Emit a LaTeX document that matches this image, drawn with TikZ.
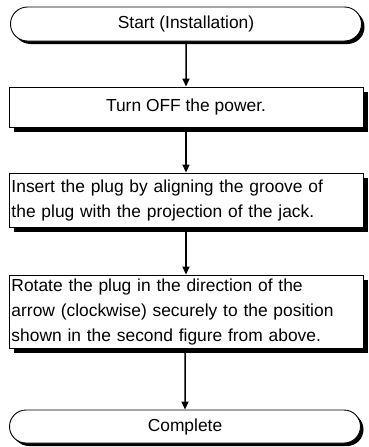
\documentclass[tikz,border=0pt]{standalone}
\usepackage{fontspec}
\setmainfont{Liberation Sans}
\usetikzlibrary{arrows.meta,shadows,shapes.misc}
\begin{document}
\begin{tikzpicture}[x=1pt,y=1pt,
  term/.style={draw,line width=0.9pt,fill=white,rounded rectangle,minimum width=351pt,minimum height=34pt,inner sep=0pt,
     drop shadow={shadow xshift=3pt,shadow yshift=-3pt,fill=black,opacity=1},font=\fontsize{17.4}{25}\selectfont},
  box/.style={draw,line width=0.9pt,fill=white,rectangle,minimum width=354pt,inner sep=0pt,
     drop shadow={shadow xshift=5pt,shadow yshift=-5pt,fill=black,opacity=1},font=\fontsize{17.4}{25}\selectfont},
  flow/.style={line width=1.5pt,-{Triangle[length=8pt,width=7pt]}}]
\useasboundingbox (0,0) rectangle (368,-447);
\node[term] (start) at (186,-24) {Start (Installation)};
\node[box,minimum height=40pt] (b1) at (186,-107) {Turn OFF the power.};
\node[box,minimum height=54pt,text width=349pt,align=left] (b2) at (186,-200) {Insert the plug by aligning the groove of\\the plug with the projection of the jack.};
\node[box,minimum height=73pt,text width=349pt,align=left] (b3) at (186,-311.5) {Rotate the plug in the direction of the\\arrow (clockwise) securely to the position\\shown in the second figure from above.};
\node[term,minimum height=33pt] (end) at (185,-426.5) {Complete};
\draw[flow] (start) -- (b1);
\draw[flow] (b1) -- (b2);
\draw[flow] (b2) -- (b3);
\draw[flow] (b3.south -| end) -- (end);
\end{tikzpicture}
\end{document}
